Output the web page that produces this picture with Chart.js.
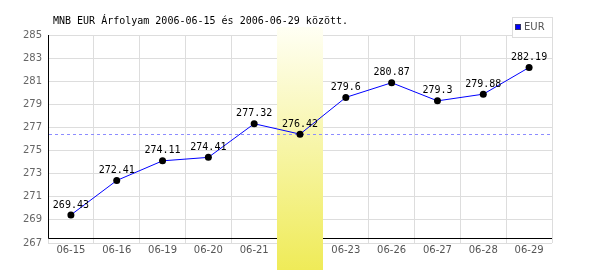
<!DOCTYPE html>
<html>
<head>
<meta charset="utf-8">
<script src="https://cdn.jsdelivr.net/npm/chart.js@4"></script>
<style>
    html, body { margin: 0; padding: 0; background: #fff; }
</style>
</head>
<body>
<canvas id="eurChart" width="600" height="270"></canvas>
<script>
const dates = ['06-15', '06-16', '06-19', '06-20', '06-21', '06-22', '06-23', '06-26', '06-27', '06-28', '06-29'];
const eurRates = [269.43, 272.41, 274.11, 274.41, 277.32, 276.42, 279.6, 280.87, 279.3, 279.88, 282.19];
const yMin = 267;
const yMax = 285;
const yStep = 2;
const highlightIndex = 5;
const seriesName = 'EUR';
const titleText = 'MNB EUR Árfolyam 2006-06-15 és 2006-06-29 között.';

const monoFont = '10px "DejaVu Sans Mono", monospace';
const sansFont = '"DejaVu Sans", Verdana, sans-serif';

// yellow band for the selected day, axis lines, dashed line at its rate
const highlightPlugin = {
    id: 'highlight',
    beforeDatasetsDraw(chart) {
        const ctx = chart.ctx;
        const x = chart.scales.x;
        const y = chart.scales.y;
        const area = chart.chartArea;
        const axisY = Math.round(area.bottom - 5) + 0.5;

        ctx.save();
        ctx.strokeStyle = '#000';
        ctx.lineWidth = 1;
        ctx.beginPath();
        ctx.moveTo(area.left + 0.5, area.top);
        ctx.lineTo(area.left + 0.5, axisY);
        ctx.lineTo(area.right, axisY);
        ctx.stroke();

        const half = (x.getPixelForValue(1) - x.getPixelForValue(0)) / 2;
        const cx = x.getPixelForValue(highlightIndex);
        const grad = ctx.createLinearGradient(0, area.top - 8, 0, chart.height);
        grad.addColorStop(0, '#fffff4');
        grad.addColorStop(1, '#efeb58');
        ctx.fillStyle = grad;
        ctx.fillRect(Math.round(cx - half), area.top - 8, Math.round(half * 2), chart.height - area.top + 8);

        const ly = Math.round(y.getPixelForValue(eurRates[highlightIndex])) + 0.5;
        ctx.strokeStyle = '#8c8cff';
        ctx.setLineDash([3, 3]);
        ctx.beginPath();
        ctx.moveTo(area.left + 1, ly);
        ctx.lineTo(area.right, ly);
        ctx.stroke();
        ctx.restore();
    }
};

const valueLabelPlugin = {
    id: 'valueLabels',
    afterDatasetsDraw(chart) {
        const ctx = chart.ctx;
        const meta = chart.getDatasetMeta(0);
        ctx.save();
        ctx.font = monoFont;
        ctx.fillStyle = '#000';
        ctx.textAlign = 'center';
        ctx.textBaseline = 'bottom';
        meta.data.forEach((point, i) => {
            ctx.fillText(String(eurRates[i]), point.x, point.y - 5);
        });
        ctx.restore();
    }
};

const framePlugin = {
    id: 'frame',
    afterDraw(chart) {
        const ctx = chart.ctx;
        const area = chart.chartArea;
        ctx.save();
        ctx.font = monoFont;
        ctx.fillStyle = '#000';
        ctx.textAlign = 'left';
        ctx.textBaseline = 'middle';
        ctx.fillText(titleText, 53, 21);

        // legend box
        const bx = area.right - 40;
        ctx.fillStyle = '#fff';
        ctx.fillRect(bx, 17, 40, 20);
        ctx.strokeStyle = '#dddddd';
        ctx.strokeRect(bx + 0.5, 17.5, 40, 20);
        ctx.fillStyle = '#0000ff';
        ctx.fillRect(bx + 3, 24, 6, 6);
        ctx.strokeStyle = '#333366';
        ctx.strokeRect(bx + 3.5, 24.5, 5, 5);
        ctx.fillStyle = '#555';
        ctx.font = '10px ' + sansFont;
        ctx.fillText(seriesName, bx + 12, 27.5);
        ctx.restore();
    }
};

new Chart(document.getElementById('eurChart').getContext('2d'), {
    type: 'line',
    data: {
        labels: dates,
        datasets: [{
            label: seriesName,
            data: eurRates,
            borderColor: '#0000ff',
            borderWidth: 1,
            pointBackgroundColor: '#000',
            pointBorderColor: '#000',
            pointRadius: 3.5,
            pointBorderWidth: 0,
            tension: 0
        }]
    },
    options: {
        responsive: false,
        animation: false,
        devicePixelRatio: 1,
        layout: { padding: { top: 35, right: 48, left: 0, bottom: 0 } },
        plugins: {
            legend: { display: false },
            tooltip: { enabled: false },
            title: { display: false }
        },
        scales: {
            x: {
                offset: true,
                afterFit: scale => { scale.height = 27; },
                grid: { color: '#dddddd', drawTicks: false, offset: true },
                border: { display: false },
                ticks: {
                    color: '#555',
                    font: { family: sansFont, size: 10 },
                    padding: 1,
                    maxRotation: 0,
                    autoSkip: false
                }
            },
            y: {
                min: yMin,
                max: yMax,
                afterFit: scale => { scale.width = 48; },
                grid: { color: '#dddddd', drawTicks: false },
                border: { display: false },
                ticks: {
                    stepSize: yStep,
                    color: '#666',
                    font: { family: sansFont, size: 10 },
                    padding: 6
                }
            }
        }
    },
    plugins: [highlightPlugin, valueLabelPlugin, framePlugin]
});
</script>
</body>
</html>
